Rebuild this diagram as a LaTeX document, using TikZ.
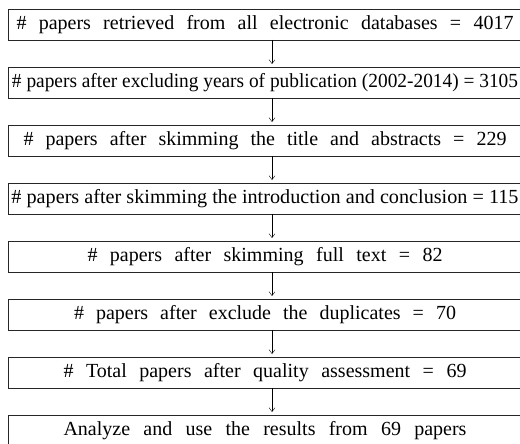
\documentclass[tikz,border=0pt]{standalone}
\usepackage{fontspec}
\setmainfont{Liberation Serif}
\usepackage{graphicx}
\usepackage{tikz}
\usetikzlibrary{arrows.meta,positioning}
\newcommand{\spreadline}[2]{\makebox[#1][s]{#2}}
\newcommand{\squeezeline}[2]{\resizebox{#1}{\height}{#2}}

\begin{document}
\begin{tikzpicture}[x=1pt,y=1pt,>={Straight Barb[length=4pt,width=6pt]},
  stage/.style={draw=black!85,line width=0.9pt,outer sep=0pt,inner sep=0pt,
    minimum width=514pt,minimum height=31pt,font=\fontsize{20}{22}\selectfont},
  node distance=27pt]
  \useasboundingbox (0,0) rectangle (520,-444);
  \node[stage] (s1) at (265,-24.5) {\spreadline{497pt}{\# papers retrieved from all electronic databases = 4017}};
  \node[stage,below=of s1] (s2) {\squeezeline{506pt}{\# papers after excluding years of publication (2002-2014) = 3105}};
  \node[stage,below=of s2] (s3) {\spreadline{483pt}{\# papers after skimming the title and abstracts = 229}};
  \node[stage,below=of s3] (s4) {\squeezeline{507pt}{\# papers after skimming the introduction and conclusion = 115}};
  \node[stage,below=of s4] (s5) {\spreadline{355pt}{\# papers after skimming full text = 82}};
  \node[stage,below=of s5] (s6) {\spreadline{382pt}{\# papers after exclude the duplicates = 70}};
  \node[stage,below=of s6] (s7) {\spreadline{403pt}{\# Total papers after quality assessment = 69}};
  \node[stage,below=of s7] (s8) {\spreadline{403pt}{Analyze and use the results from 69 papers}};
  \draw[->,thin] ([xshift=7pt]s1.south) -- ([xshift=7pt,yshift=3pt]s2.north);
  \draw[->,thin] ([xshift=7pt]s2.south) -- ([xshift=7pt,yshift=3pt]s3.north);
  \draw[->,thin] ([xshift=7pt]s3.south) -- ([xshift=7pt,yshift=3pt]s4.north);
  \draw[->,thin] ([xshift=7pt]s4.south) -- ([xshift=7pt,yshift=3pt]s5.north);
  \draw[->,thin] ([xshift=7pt]s5.south) -- ([xshift=7pt,yshift=3pt]s6.north);
  \draw[->,thin] ([xshift=7pt]s6.south) -- ([xshift=7pt,yshift=3pt]s7.north);
  \draw[->,thin] ([xshift=7pt]s7.south) -- ([xshift=7pt,yshift=3pt]s8.north);
\end{tikzpicture}
\end{document}
